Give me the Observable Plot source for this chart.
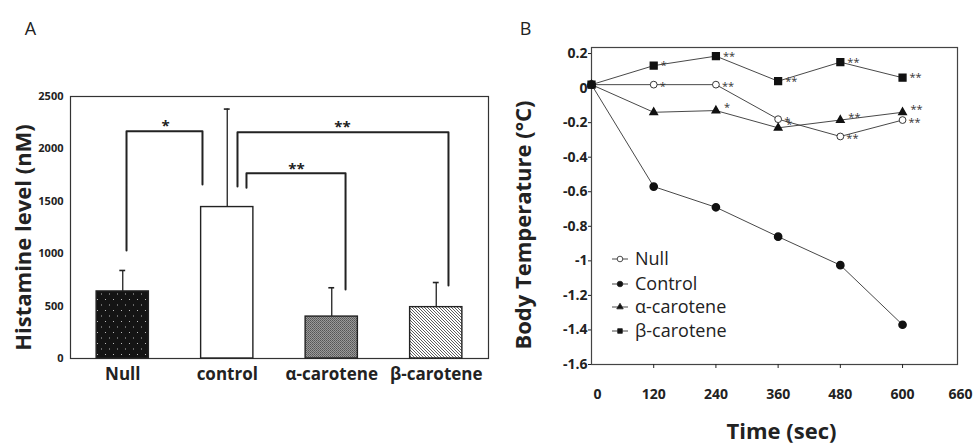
<!DOCTYPE html>
<html><head><meta charset="utf-8">
<script src="https://cdn.jsdelivr.net/npm/d3@7"></script>
<script src="https://cdn.jsdelivr.net/npm/@observablehq/plot@0.6"></script>
<style>
body{margin:0;background:#fff;}
#wrap{position:relative;width:974px;height:444px;overflow:hidden;font-family:"Open Sans",sans-serif;}
#a,#b{position:absolute;top:0;}
#a{left:0px;} #b{left:495px;}
#legend{position:absolute;left:604px;top:246px;}
</style></head><body>
<div id="wrap"><div id="a"></div><div id="b"></div><div id="legend"></div></div>
<script>
// ---------- Panel A data ----------
const categories = ["Null", "control", "α-carotene", "β-carotene"];
const histamineMean = [640, 1445, 400, 490];
const histamineUpper = [840, 2380, 675, 725];
const yTicksA = [0, 500, 1000, 1500, 2000, 2500];
// significance brackets: [category position, nM]
const bracketNullControl = [[1.036, 1030], [1.036, 2169], [1.763, 2169], [1.763, 1660]];
const bracketControlBeta = [[2.098, 1641], [2.098, 2160], [4.117, 2160], [4.117, 697]];
const bracketControlAlpha = [[2.184, 1630], [2.184, 1768], [3.132, 1768], [3.132, 658]];
const bracketStarX = [1.409, 3.103, 2.663];
const bracketStarY = [2252, 2242, 1842];
const bracketStarText = ["*", "**", "**"];

// ---------- Panel B data ----------
const timeSec = [0, 120, 240, 360, 480, 600];
const seriesNames = ["Null", "Control", "α-carotene", "β-carotene"];
const nullTemp = [0.02, 0.02, 0.02, -0.18, -0.28, -0.185];
const controlTemp = [0.02, -0.57, -0.69, -0.86, -1.025, -1.37];
const alphaTemp = [0.02, -0.14, -0.13, -0.23, -0.185, -0.14];
const betaTemp = [0.02, 0.13, 0.185, 0.04, 0.15, 0.06];
const nullSig = ["", "*", "**", "*", "**", "**"];
const controlSig = ["", "", "", "", "", ""];
const alphaSig = ["", "", "*", "*", "**", "**"];
const betaSig = ["", "*", "**", "**", "**", "**"];
const yTicksB = [0.2, 0, -0.2, -0.4, -0.6, -0.8, -1, -1.2, -1.4, -1.6];
const xTicksB = [120, 240, 360, 480, 600];
const xTickLabelsB = ["0", "120", "240", "360", "480", "600", "660"];

const FONT = "'Open Sans', sans-serif";
const INK = "#222";

// ---------- Panel A ----------
const bars = categories.map((c, i) => ({cat: c, pos: i + 1, mean: histamineMean[i], upper: histamineUpper[i]}));
const toPts = (b, k) => b.map(([x, y]) => ({x, y, k}));
const brackets = [...toPts(bracketNullControl, 0), ...toPts(bracketControlBeta, 1), ...toPts(bracketControlAlpha, 2)];
const stars = bracketStarX.map((x, i) => ({x, y: bracketStarY[i], t: bracketStarText[i]}));

const plotA = Plot.plot({
  width: 495, height: 444,
  marginLeft: 70, marginRight: 7, marginTop: 96, marginBottom: 86,
  style: {fontFamily: FONT, color: INK, background: "white"},
  x: {domain: [0.5, 4.5], axis: null},
  y: {domain: [0, 2500], axis: null},
  color: {domain: categories, range: ["url(#pNull)", "#ffffff", "url(#pAlpha)", "url(#pBeta)"]},
  marks: [
    Plot.frame({stroke: "#333", strokeWidth: 1.2}),
    Plot.rectY(bars, {x1: d => d.pos - 0.25, x2: d => d.pos + 0.25, y1: 0, y2: "mean", fill: "cat", stroke: INK, strokeWidth: 1.4}),
    Plot.ruleX(bars, {x: "pos", y1: "mean", y2: "upper", stroke: INK, strokeWidth: 1.3}),
    Plot.ruleY(bars, {y: "upper", x1: d => d.pos - 0.028, x2: d => d.pos + 0.028, stroke: INK, strokeWidth: 1.6}),
    Plot.line(brackets, {x: "x", y: "y", z: "k", stroke: INK, strokeWidth: 2}),
    Plot.text(stars, {x: "x", y: "y", text: "t", fontSize: 15, fontWeight: "bold", dy: 4, fill: INK}),
    Plot.axisY({ticks: yTicksA, tickFormat: d => String(d), tickSize: 0, tickPadding: 7, fontSize: 11, fontWeight: "bold", label: null}),
    Plot.axisX({ticks: [1, 2, 3, 4], tickFormat: d => categories[d - 1], tickSize: 0, tickPadding: 9, fontSize: 17, fontWeight: "bold", label: null}),
    Plot.text(["Histamine level (nM)"], {frameAnchor: "left", textAnchor: "middle", lineAnchor: "middle", rotate: -90, dx: -47, dy: 10, fontSize: 22, fontWeight: "bold", fill: INK}),
    Plot.text(["A"], {frameAnchor: "top-left", textAnchor: "middle", lineAnchor: "middle", dx: -40, dy: -67, fontSize: 18, fill: INK})
  ]
});

// patterns
const defsA = d3.select(plotA).insert("defs", ":first-child");
const pN = defsA.append("pattern").attr("id", "pNull").attr("patternUnits", "userSpaceOnUse").attr("width", 8).attr("height", 11);
pN.append("rect").attr("width", 8).attr("height", 11).attr("fill", "#141414");
pN.append("rect").attr("x", 1).attr("y", 2).attr("width", 1).attr("height", 1).attr("fill", "#bbb");
pN.append("rect").attr("x", 5).attr("y", 7.5).attr("width", 1).attr("height", 1).attr("fill", "#bbb");
const pA = defsA.append("pattern").attr("id", "pAlpha").attr("patternUnits", "userSpaceOnUse").attr("width", 2).attr("height", 2);
pA.append("rect").attr("width", 2).attr("height", 2).attr("fill", "#9a9a9a");
pA.append("rect").attr("width", 1).attr("height", 1).attr("fill", "#555");
pA.append("rect").attr("x", 1).attr("y", 1).attr("width", 1).attr("height", 1).attr("fill", "#666");
const pB = defsA.append("pattern").attr("id", "pBeta").attr("patternUnits", "userSpaceOnUse").attr("width", 3).attr("height", 3);
pB.append("rect").attr("width", 3).attr("height", 3).attr("fill", "#fff");
pB.append("path").attr("d", "M-1,-1L4,4M-1,2L1,4M2,-1L4,1").attr("stroke", "#333").attr("stroke-width", 0.8);
document.getElementById("a").appendChild(plotA);

// ---------- Panel B ----------
const seriesVals = [nullTemp, controlTemp, alphaTemp, betaTemp];
const seriesSig = [nullSig, controlSig, alphaSig, betaSig];
const rows = [];
seriesNames.forEach((s, si) => timeSec.forEach((t, i) => rows.push({s, t, v: seriesVals[si][i], sig: seriesSig[si][i]})));
const bySeries = s => rows.filter(d => d.s === s);
const sigOf = s => rows.filter(d => d.s === s && d.sig);
const fmt = d => String(+d.toFixed(1));
const starStyle = {x: "t", y: "v", text: "sig", textAnchor: "start", fontSize: 11, fill: "#333"};

const plotB = Plot.plot({
  width: 479, height: 444,
  marginLeft: 96, marginRight: 17, marginTop: 47, marginBottom: 80,
  style: {fontFamily: FONT, color: INK, background: "white"},
  x: {domain: [0, 706], axis: null},
  y: {domain: [-1.6, 0.235], axis: null},
  marks: [
    Plot.frame({stroke: "#444", strokeWidth: 1.2}),
    Plot.line(rows, {x: "t", y: "v", z: "s", stroke: "#333", strokeWidth: 0.9}),
    Plot.dot(bySeries("Control"), {x: "t", y: "v", r: 3.6, fill: "#111", stroke: "#111"}),
    Plot.dot(bySeries("α-carotene"), {x: "t", y: "v", r: 2.7, symbol: "triangle", fill: "#111", stroke: "#111"}),
    Plot.dot(bySeries("Null"), {x: "t", y: "v", r: 3.4, fill: "white", stroke: "#222", strokeWidth: 0.9}),
    Plot.dot(bySeries("β-carotene"), {x: "t", y: "v", r: 3.8, symbol: "square", fill: "#111", stroke: "#111"}),
    Plot.text(sigOf("β-carotene"), {...starStyle, dx: 7, dy: 0}),
    Plot.text(sigOf("Null"), {...starStyle, dx: 6, dy: 2}),
    Plot.text(sigOf("α-carotene"), {...starStyle, dx: 8, dy: -3}),
    Plot.axisY({ticks: yTicksB, tickFormat: fmt, tickSize: 3, tickPadding: 1, fontSize: 14, fontWeight: "bold", label: null}),
    Plot.axisX({ticks: xTicksB, tickFormat: d => xTickLabelsB[timeSec.indexOf(d)], tickSize: 4, tickPadding: 21, fontSize: 14, fontWeight: "bold", label: null}),
    Plot.text([xTickLabelsB[0]], {frameAnchor: "bottom-left", textAnchor: "middle", lineAnchor: "top", dx: 6, dy: 25, fontSize: 14, fontWeight: "bold", fill: INK}),
    Plot.text([xTickLabelsB[xTickLabelsB.length - 1]], {frameAnchor: "bottom-right", textAnchor: "middle", lineAnchor: "top", dx: 3, dy: 25, fontSize: 14, fontWeight: "bold", fill: INK}),
    Plot.text(["Body Temperature (°C)"], {frameAnchor: "left", textAnchor: "middle", lineAnchor: "middle", rotate: -90, dx: -68, dy: 19, fontSize: 22, fontWeight: "bold", fill: INK}),
    Plot.text(["Time (sec)"], {frameAnchor: "bottom", textAnchor: "middle", lineAnchor: "middle", dx: 7, dy: 67, fontSize: 22, fontWeight: "bold", fill: INK}),
    Plot.text(["B"], {frameAnchor: "top-left", textAnchor: "middle", lineAnchor: "middle", dx: -66, dy: -18, fontSize: 18, fill: INK})
  ]
});
document.getElementById("b").appendChild(plotB);

// ---------- Legend (inside panel B) ----------
const legSymbols = [
  {type: d3.symbolCircle, r: 2.8, fill: "white"},
  {type: d3.symbolCircle, r: 2.8, fill: "#111"},
  {type: d3.symbolTriangle, r: 2.4, fill: "#111"},
  {type: d3.symbolSquare, r: 2.6, fill: "#111"}
];
const leg = d3.select("#legend").append("svg").attr("width", 150).attr("height", 100)
  .style("font-family", FONT);
const rowY = [13, 38, 61, 85];
seriesNames.forEach((s, i) => {
  const g = leg.append("g").attr("transform", `translate(0,${rowY[i]})`);
  g.append("line").attr("x1", 8).attr("x2", 24).attr("stroke", "#333").attr("stroke-width", 0.9);
  const sym = legSymbols[i];
  g.append("path").attr("transform", "translate(16,0)")
    .attr("d", d3.symbol(sym.type, Math.PI * sym.r * sym.r)())
    .attr("fill", sym.fill).attr("stroke", "#222").attr("stroke-width", 0.8);
  g.append("text").attr("x", 31).attr("dy", "0.35em").attr("font-size", 18).attr("fill", INK).text(s);
});
</script>
</body></html>
